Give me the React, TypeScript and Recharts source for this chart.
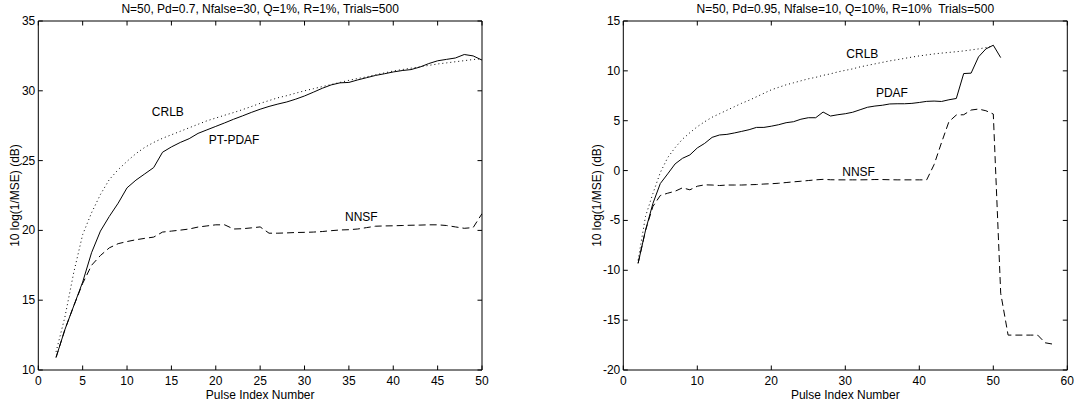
import React from 'react';
import { LineChart, Line, XAxis, YAxis, ReferenceDot } from 'recharts';

const FONT = '"Liberation Sans", Arial, Helvetica, sans-serif';

// ---------- Left panel data ----------
const leftTitle = 'N=50, Pd=0.7, Nfalse=30, Q=1%, R=1%, Trials=500';
const leftPulse = [2, 3, 4, 5, 6, 7, 8, 9, 10, 11, 12, 13, 14, 15, 16, 17, 18, 19, 20, 21, 22, 23, 24, 25, 26, 27, 28, 29, 30, 31, 32, 33, 34, 35, 36, 37, 38, 39, 40, 41, 42, 43, 44, 45, 46, 47, 48, 49, 50];
const leftCrlb = [11.3, 13.8, 17.0, 19.7, 21.26, 22.57, 23.64, 24.35, 24.95, 25.5, 25.95, 26.3, 26.6, 26.85, 27.1, 27.35, 27.6, 27.85, 28.05, 28.25, 28.44, 28.65, 28.87, 29.1, 29.3, 29.5, 29.65, 29.83, 30.0, 30.15, 30.3, 30.45, 30.6, 30.75, 30.88, 31.0, 31.15, 31.28, 31.42, 31.52, 31.62, 31.72, 31.82, 31.92, 32.0, 32.08, 32.16, 32.24, 32.3];
const leftPtPdaf = [10.9, 12.9, 14.6, 16.3, 18.4, 19.95, 21.0, 21.95, 23.05, 23.6, 24.05, 24.5, 25.6, 25.98, 26.3, 26.57, 26.95, 27.2, 27.45, 27.7, 27.96, 28.2, 28.45, 28.68, 28.88, 29.05, 29.2, 29.4, 29.63, 29.9, 30.18, 30.42, 30.57, 30.6, 30.78, 30.94, 31.1, 31.22, 31.35, 31.45, 31.52, 31.7, 31.95, 32.15, 32.25, 32.35, 32.6, 32.5, 32.2];
const leftNnsf = [10.9, 12.9, 14.6, 16.2, 17.5, 18.2, 18.75, 19.05, 19.2, 19.33, 19.43, 19.52, 19.88, 19.95, 20.02, 20.1, 20.24, 20.32, 20.4, 20.4, 20.1, 20.12, 20.18, 20.25, 19.8, 19.8, 19.82, 19.85, 19.86, 19.88, 19.92, 19.98, 20.03, 20.05, 20.1, 20.2, 20.3, 20.32, 20.33, 20.35, 20.37, 20.38, 20.4, 20.4, 20.35, 20.25, 20.15, 20.2, 21.2];
const leftXTicks = [0, 5, 10, 15, 20, 25, 30, 35, 40, 45, 50];
const leftYTicks = [10, 15, 20, 25, 30, 35];
const leftNoteText = ['CRLB', 'PT-PDAF', 'NNSF'];
const leftNoteX = [14.6, 22.06, 36.4];
const leftNoteY = [28.5, 26.5, 21.0];

// ---------- Right panel data ----------
const rightTitle = 'N=50, Pd=0.95, Nfalse=10, Q=10%, R=10%  Trials=500';
const rightPulse = [2, 3, 4, 5, 6, 7, 8, 9, 10, 11, 12, 13, 14, 15, 16, 17, 18, 19, 20, 21, 22, 23, 24, 25, 26, 27, 28, 29, 30, 31, 32, 33, 34, 35, 36, 37, 38, 39, 40, 41, 42, 43, 44, 45, 46, 47, 48, 49, 50, 51, 52, 53, 54, 55, 56, 57, 58];
const rightCrlb = [-9.0, -4.6, -2.3, -0.2, 1.3, 2.3, 3.15, 3.8, 4.4, 4.9, 5.35, 5.7, 6.05, 6.4, 6.75, 7.05, 7.4, 7.75, 8.1, 8.35, 8.6, 8.8, 9.0, 9.2, 9.35, 9.55, 9.7, 9.9, 10.05, 10.2, 10.4, 10.55, 10.7, 10.85, 11.0, 11.12, 11.25, 11.38, 11.5, 11.6, 11.7, 11.78, 11.85, 11.92, 12.0, 12.1, 12.2, 12.33, 12.5];
const rightPdaf = [-9.3, -6.0, -3.3, -1.3, -0.33, 0.67, 1.23, 1.57, 2.27, 2.73, 3.33, 3.57, 3.63, 3.77, 3.93, 4.1, 4.33, 4.33, 4.45, 4.6, 4.8, 4.9, 5.15, 5.3, 5.3, 5.87, 5.47, 5.6, 5.7, 5.85, 6.1, 6.35, 6.47, 6.55, 6.68, 6.7, 6.7, 6.74, 6.83, 6.94, 6.97, 6.93, 7.1, 7.23, 9.73, 9.77, 11.4, 12.2, 12.57, 11.33];
const rightNnsf = [-9.3, -6.0, -3.6, -2.5, -2.27, -2.07, -1.73, -1.93, -1.57, -1.43, -1.45, -1.5, -1.45, -1.45, -1.45, -1.42, -1.4, -1.35, -1.32, -1.27, -1.2, -1.13, -1.07, -1.0, -0.93, -0.88, -0.92, -0.93, -0.93, -0.93, -0.93, -0.92, -0.9, -0.9, -0.92, -0.93, -0.93, -0.93, -0.93, -0.93, 0.6, 2.8, 4.9, 5.57, 5.6, 6.07, 6.17, 6.0, 5.67, -12.3, -16.5, -16.5, -16.5, -16.5, -16.5, -17.27, -17.4];
const rightXTicks = [0, 10, 20, 30, 40, 50, 60];
const rightYTicks = [-20, -15, -10, -5, 0, 5, 10, 15];
const rightNoteText = ['CRLB', 'PDAF', 'NNSF'];
const rightNoteX = [32.3, 36.3, 31.8];
const rightNoteY = [11.7, 7.78, -0.12];

const yLabelText = '10 log(1/MSE) (dB)';
const xLabelText = 'Pulse Index Number';

const leftTable = leftPulse.map((x, i) => ({
  x,
  crlb: leftCrlb[i] ?? null,
  main: leftPtPdaf[i] ?? null,
  nnsf: leftNnsf[i] ?? null,
}));

const rightTable = rightPulse.map((x, i) => ({
  x,
  crlb: rightCrlb[i] ?? null,
  main: rightPdaf[i] ?? null,
  nnsf: rightNnsf[i] ?? null,
}));

const TICK_LEN = 4.5;
const AX = 1; // thickness reserved for each axis box
const textStyle: any = { fontFamily: FONT, fontSize: 12, fill: '#000', whiteSpace: 'pre' };

const BottomTick = (p: any) => (
  <g>
    <line x1={p.x} y1={p.y} x2={p.x} y2={p.y - TICK_LEN} stroke="#000" strokeWidth={1} />
    <text x={p.x} y={p.y + 15} textAnchor="middle" style={textStyle}>{p.payload.value}</text>
  </g>
);
const TopTick = (p: any) => (
  <line x1={p.x} y1={p.y} x2={p.x} y2={p.y + TICK_LEN} stroke="#000" strokeWidth={1} />
);
const LeftTick = (p: any) => (
  <g>
    <line x1={p.x} y1={p.y} x2={p.x + TICK_LEN} y2={p.y} stroke="#000" strokeWidth={1} />
    <text x={p.x - 3} y={p.y + 4} textAnchor="end" style={textStyle}>{p.payload.value}</text>
  </g>
);
const RightTick = (p: any) => (
  <line x1={p.x} y1={p.y} x2={p.x - TICK_LEN} y2={p.y} stroke="#000" strokeWidth={1} />
);

type PanelProps = {
  left: number;
  width: number;
  margin: { top: number; right: number; bottom: number; left: number };
  data: any[];
  xDomain: [number, number];
  yDomain: [number, number];
  xTicks: number[];
  yTicks: number[];
  title: string;
  yLabelOffset: number;
  noteText: string[];
  noteX: number[];
  noteY: number[];
};

function Panel(props: PanelProps) {
  const { left, width, margin, data, xDomain, yDomain, xTicks, yTicks, title, yLabelOffset, noteText, noteX, noteY } = props;
  const axisLine = { stroke: '#000', strokeWidth: 1 };
  const m = { top: margin.top - AX, right: margin.right - AX, bottom: margin.bottom - AX, left: margin.left - AX };
  return (
    <div style={{ position: 'absolute', left, top: 0 }}>
      <LineChart width={width} height={406} data={data} margin={m}>
        <XAxis
          xAxisId="b"
          dataKey="x"
          type="number"
          domain={xDomain}
          ticks={xTicks}
          interval={0}
          allowDataOverflow
          height={AX}
          tickSize={0}
          tickMargin={0}
          tickLine={false}
          axisLine={axisLine}
          tick={<BottomTick />}
          label={{
            value: xLabelText,
            content: (lp: any) => {
              const vb = lp.viewBox || {};
              return (
                <text x={vb.x + vb.width / 2} y={vb.y + 28.5} textAnchor="middle" style={textStyle}>
                  {xLabelText}
                </text>
              );
            },
          }}
        />
        <XAxis
          xAxisId="t"
          orientation="top"
          dataKey="x"
          type="number"
          domain={xDomain}
          ticks={xTicks}
          interval={0}
          allowDataOverflow
          height={AX}
          tickSize={0}
          tickMargin={0}
          tickLine={false}
          axisLine={axisLine}
          tick={<TopTick />}
          label={{
            value: title,
            content: (lp: any) => {
              const vb = lp.viewBox || {};
              return (
                <text x={vb.x + vb.width / 2} y={vb.y + vb.height - 8.5} textAnchor="middle" xmlSpace="preserve" style={textStyle}>
                  {title}
                </text>
              );
            },
          }}
        />
        <YAxis
          yAxisId="l"
          type="number"
          domain={yDomain}
          ticks={yTicks}
          interval={0}
          allowDataOverflow
          width={AX}
          tickSize={0}
          tickMargin={0}
          tickLine={false}
          axisLine={axisLine}
          tick={<LeftTick />}
          label={{
            value: yLabelText,
            content: (lp: any) => {
              const vb = lp.viewBox || {};
              const cx = vb.x + vb.width - yLabelOffset;
              const cy = vb.y + vb.height / 2;
              return (
                <text x={cx} y={cy} transform={`rotate(-90, ${cx}, ${cy})`} textAnchor="middle" style={textStyle}>
                  {yLabelText}
                </text>
              );
            },
          }}
        />
        <YAxis
          yAxisId="r"
          orientation="right"
          type="number"
          domain={yDomain}
          ticks={yTicks}
          interval={0}
          allowDataOverflow
          width={AX}
          tickSize={0}
          tickMargin={0}
          tickLine={false}
          axisLine={axisLine}
          tick={<RightTick />}
        />
        <Line
          xAxisId="b"
          yAxisId="l"
          dataKey="crlb"
          type="linear"
          stroke="#000"
          strokeWidth={1}
          strokeDasharray="1 3"
          dot={false}
          activeDot={false}
          isAnimationActive={false}
        />
        <Line
          xAxisId="b"
          yAxisId="l"
          dataKey="nnsf"
          type="linear"
          stroke="#000"
          strokeWidth={1}
          strokeDasharray="7 4"
          dot={false}
          activeDot={false}
          isAnimationActive={false}
        />
        <Line
          xAxisId="b"
          yAxisId="l"
          dataKey="main"
          type="linear"
          stroke="#000"
          strokeWidth={1}
          dot={false}
          activeDot={false}
          isAnimationActive={false}
        />
        {noteText.map((t, i) => (
          <ReferenceDot
            key={t}
            xAxisId="b"
            yAxisId="l"
            x={noteX[i]}
            y={noteY[i]}
            r={0}
            fill="none"
            stroke="none"
            label={{ value: t, position: 'center', style: textStyle }}
          />
        ))}
      </LineChart>
    </div>
  );
}

export default function App() {
  return (
    <div style={{ position: 'absolute', left: 0, top: 0, width: 1076, height: 406, background: '#fff', overflow: 'hidden' }}>
      <Panel
        left={0}
        width={540}
        margin={{ top: 21, right: 58, bottom: 36, left: 38.3 }}
        data={leftTable}
        xDomain={[0, 50]}
        yDomain={[10, 35]}
        xTicks={leftXTicks}
        yTicks={leftYTicks}
        title={leftTitle}
        yLabelOffset={19}
        noteText={leftNoteText}
        noteX={leftNoteX}
        noteY={leftNoteY}
      />
      <Panel
        left={540}
        width={536}
        margin={{ top: 21, right: 8.7, bottom: 36, left: 83.3 }}
        data={rightTable}
        xDomain={[0, 60]}
        yDomain={[-20, 15]}
        xTicks={rightXTicks}
        yTicks={rightYTicks}
        title={rightTitle}
        yLabelOffset={22.3}
        noteText={rightNoteText}
        noteX={rightNoteX}
        noteY={rightNoteY}
      />
    </div>
  );
}
